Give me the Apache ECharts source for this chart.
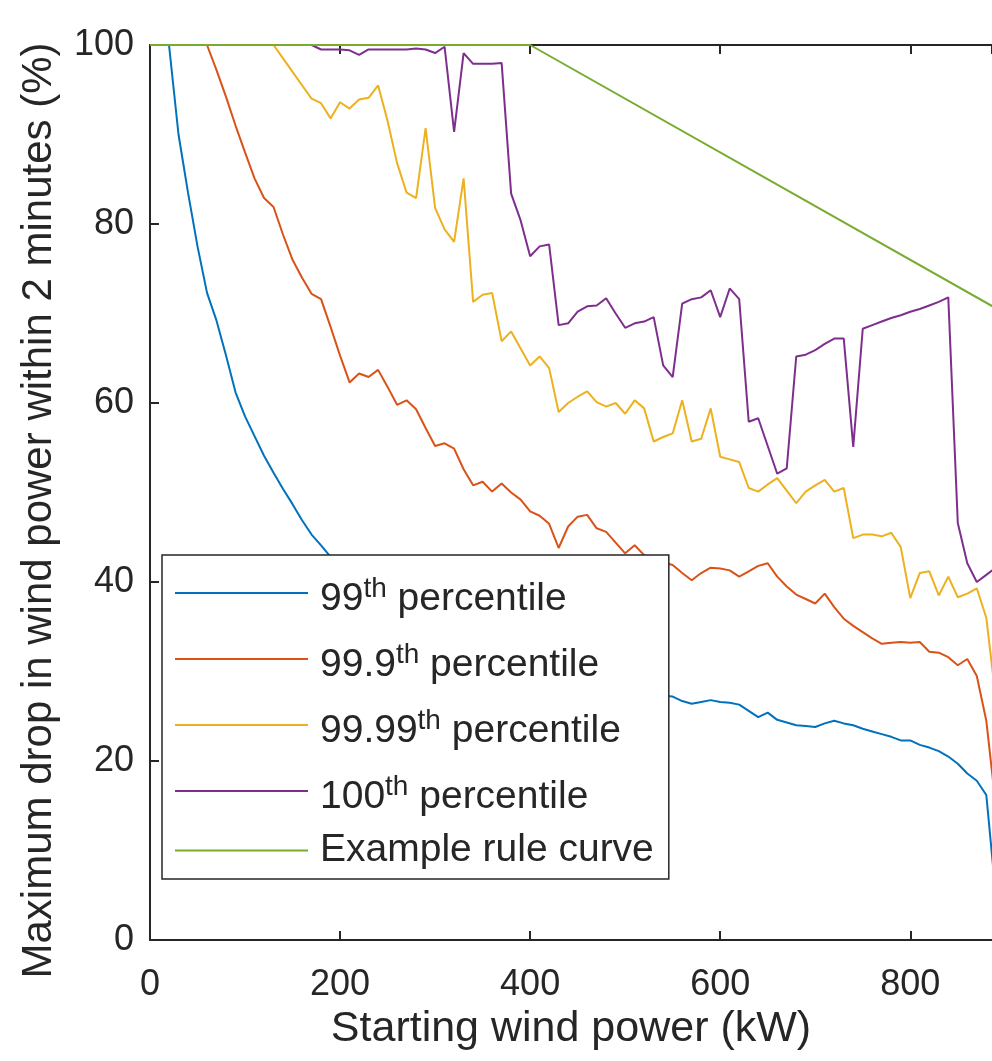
<!DOCTYPE html>
<html><head><meta charset="utf-8">
<script src="https://cdn.jsdelivr.net/npm/echarts@6/dist/echarts.min.js"></script>
<style>html,body{margin:0;padding:0;background:#fff}#c{width:992px;height:1061px}</style>
</head><body><div id="c"></div><script>
// Starting wind power (kW)
const xKw = [0,10,20,30,40,50,60,70,80,90,100,110,120,130,140,150,160,170,180,190,
200,210,220,230,240,250,260,270,280,290,300,310,320,330,340,350,360,370,380,390,
400,410,420,430,440,450,460,470,480,490,500,510,520,530,540,550,560,570,580,590,
600,610,620,630,640,650,660,670,680,690,700,710,720,730,740,750,760,770,780,790,
800,810,820,830,840,850,860,870,880,890];
// 99th percentile
const p99 = [100,100,100,90,83.5,77.5,72.3,69.2,65.3,61.2,58.5,56.3,54.1,52.2,50.4,48.7,46.9,45.3,44.1,42.8,
41.5,40.3,39.2,38.2,37.3,36.4,35.6,34.9,34.2,33.6,33.0,32.5,32.0,31.5,31.1,30.7,30.3,30.0,29.7,29.4,
29.2,29.0,28.8,28.6,28.4,28.2,28.0,27.9,27.8,27.7,27.6,27.5,27.4,27.3,27.3,27.2,26.7,26.4,26.6,26.8,
26.6,26.5,26.3,25.6,24.9,25.4,24.6,24.3,24.0,23.9,23.8,24.2,24.5,24.2,24.0,23.6,23.3,23.0,22.7,22.3,
22.3,21.8,21.5,21.1,20.5,19.7,18.6,17.8,16.2,5.0];
// 99.9th percentile
const p999 = [100,100,100,100,100,100,100,97.2,94.2,91.0,88.0,85.1,82.9,81.9,78.8,76.0,74.0,72.2,71.6,68.5,
65.3,62.3,63.3,62.9,63.7,61.8,59.8,60.3,59.3,57.2,55.2,55.5,54.9,52.6,50.8,51.2,50.1,51.0,50.0,49.2,
47.9,47.4,46.5,43.8,46.2,47.3,47.5,46.0,45.6,44.4,43.2,44.1,43.0,42.6,42.2,41.9,41.0,40.2,41.0,41.6,
41.5,41.3,40.6,41.2,41.8,42.1,40.6,39.5,38.6,38.1,37.6,38.7,37.2,35.9,35.1,34.4,33.7,33.1,33.2,33.3,
33.2,33.3,32.2,32.1,31.6,30.7,31.4,29.5,24.5,15.0];
// 99.99th percentile
const p9999 = [100,100,100,100,100,100,100,100,100,100,100,100,100,100,98.5,97.0,95.5,94.0,93.5,91.8,
93.6,92.9,93.9,94.1,95.5,91.5,86.8,83.5,82.9,90.7,81.8,79.4,78.0,85.1,71.3,72.1,72.3,66.9,68.0,66.1,
64.2,65.2,63.9,59.0,60.0,60.7,61.3,60.1,59.6,60.0,58.8,60.3,59.4,55.7,56.2,56.6,60.3,55.7,56.0,59.4,
54.0,53.7,53.4,50.5,50.1,50.9,51.6,50.2,48.8,50.1,50.8,51.4,50.1,50.5,44.9,45.3,45.3,45.1,45.5,43.9,
38.2,41.0,41.2,38.5,40.6,38.3,38.7,39.3,36.0,27.0];
// 100th percentile
const p100 = [100,100,100,100,100,100,100,100,100,100,100,100,100,100,100,100,100,100,99.5,99.5,
99.5,99.4,98.9,99.5,99.5,99.5,99.5,99.5,99.6,99.5,99.1,99.8,90.3,99.1,97.9,97.9,97.9,98.0,83.4,80.4,
76.4,77.5,77.7,68.7,68.9,70.2,70.8,70.9,71.7,70.0,68.4,68.9,69.1,69.6,64.2,62.9,71.1,71.6,71.8,72.6,
69.6,72.8,71.6,57.9,58.3,55.2,52.1,52.7,65.2,65.4,65.9,66.6,67.2,67.2,55.1,68.3,68.7,69.1,69.5,69.8,
70.2,70.5,70.9,71.3,71.8,46.6,42.1,40.0,40.8,41.6];
// Example rule curve
const ruleX = [0,400,900];
const ruleY = [100,100,70];

const seriesNames = ['99th percentile','99.9th percentile','99.99th percentile','100th percentile','Example rule curve'];
const legendNum = ['99','99.9','99.99','100'];
const colors = ['#0072BD','#D95319','#EDB120','#7E2F8E','#77AC30'];
const xTicks = [0,200,400,600,800];
const yTicks = [0,20,40,60,80,100];

const FONT = "'Liberation Sans', Arial, Helvetica, sans-serif";
const INK = '#262626';
const pairs = (xs, ys) => xs.map((x, i) => [x, ys[i]]);
const allY = [p99, p999, p9999, p100];

const series = allY.map((ys, i) => ({
  name: seriesNames[i], type: 'line', data: pairs(xKw, ys), symbol: 'none',
  lineStyle: {width: 2, color: colors[i]}, itemStyle: {color: colors[i]}, animation: false
}));
series.push({
  name: seriesNames[4], type: 'line', data: pairs(ruleX, ruleY), symbol: 'none',
  lineStyle: {width: 2, color: colors[4]}, itemStyle: {color: colors[4]}, animation: false
});

const axisCommon = {
  axisLine: {show: true, lineStyle: {color: INK, width: 2}},
  axisTick: {show: true, inside: true, length: 9, lineStyle: {color: INK, width: 2}},
  splitLine: {show: false}
};

const chart = echarts.init(document.getElementById('c'), null, {renderer: 'canvas'});
chart.setOption({
  backgroundColor: '#fff',
  animation: false,
  color: colors,
  textStyle: {fontFamily: FONT},
  grid: {left: 150, right: 0, top: 45, bottom: 121, containLabel: false},
  xAxis: [Object.assign({
    type: 'value', position: 'bottom', min: xTicks[0], max: 886, interval: xTicks[1] - xTicks[0],
    axisLabel: {fontSize: 36, color: INK, fontFamily: FONT, margin: 27, showMaxLabel: false,
      formatter: v => xTicks.includes(v) ? String(v) : ''},
    name: 'Starting wind power (kW)', nameLocation: 'middle', nameGap: 66,
    nameTextStyle: {fontSize: 43, color: INK, fontFamily: FONT}
  }, axisCommon), Object.assign({
    type: 'value', position: 'top', min: xTicks[0], max: 886, interval: xTicks[1] - xTicks[0],
    axisLabel: {show: false}
  }, axisCommon)],
  yAxis: [Object.assign({
    type: 'value', position: 'left', min: yTicks[0], max: yTicks[yTicks.length - 1], interval: yTicks[1] - yTicks[0],
    axisLabel: {fontSize: 36, color: INK, fontFamily: FONT, margin: 16},
    name: 'Maximum drop in wind power within 2 minutes (%)', nameLocation: 'middle', nameGap: 90,
    nameTextStyle: {fontSize: 42, color: INK, fontFamily: FONT, padding: [0, 36, 0, 0]}
  }, axisCommon)],
  legend: {
    orient: 'vertical', left: 162, top: 555,
    padding: [12, 15, 9, 13], itemGap: 14, itemWidth: 133, itemHeight: 2, icon: 'rect',
    backgroundColor: '#fff', borderColor: INK, borderWidth: 1.5, borderRadius: 0,
    data: seriesNames,
    formatter: name => {
      const i = seriesNames.indexOf(name);
      if (i < legendNum.length) return '{m|' + legendNum[i] + '}{s|th}{m| percentile}';
      return '{e|' + name + '}';
    },
    textStyle: {
      color: INK, fontFamily: FONT, padding: [0, 0, 0, 7],
      rich: {
        m: {fontSize: 39, lineHeight: 52, verticalAlign: 'bottom', color: INK, fontFamily: FONT},
        s: {fontSize: 28, lineHeight: 28, verticalAlign: 'top', padding: [8, 0, 0, 0], color: INK, fontFamily: FONT},
        e: {fontSize: 39, lineHeight: 34, color: INK, fontFamily: FONT}
      }
    }
  },
  series: series
});
</script></body></html>
